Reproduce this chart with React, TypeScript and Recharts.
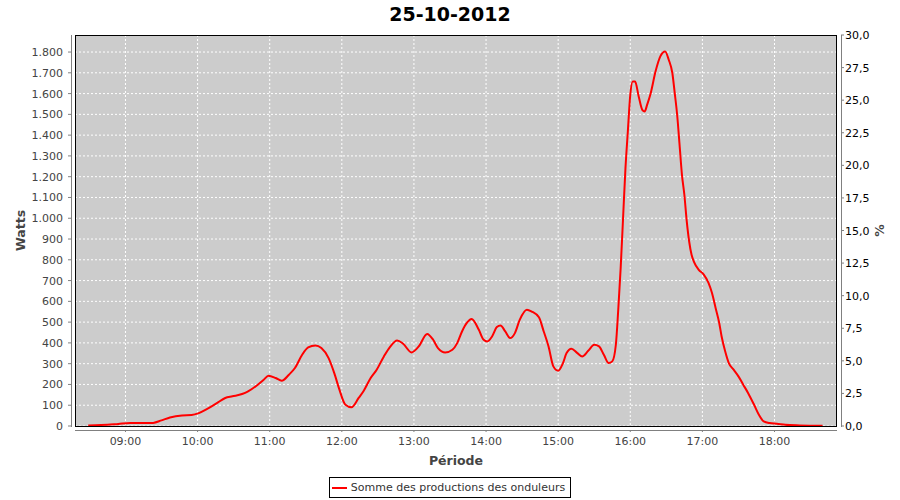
import React from 'react'
import { LineChart, Line, XAxis, YAxis, CartesianGrid, Legend } from 'recharts'

// Production du 25-10-2012
const TIMES = [
    '08:29', '08:35', '08:45', '08:54', '09:04', '09:15', '09:23', '09:30', '09:37', '09:47',
    '09:55', '10:01', '10:08', '10:16', '10:23', '10:29', '10:37', '10:42', '10:49', '10:55',
    '10:59', '11:05', '11:10', '11:16', '11:21', '11:27', '11:32', '11:38', '11:43', '11:49',
    '11:54', '11:58', '12:03', '12:08', '12:14', '12:18', '12:24', '12:29', '12:35', '12:40',
    '12:46', '12:51', '12:58', '13:04', '13:11', '13:16', '13:20', '13:26', '13:32', '13:36',
    '13:40', '13:44', '13:48', '13:54', '13:58', '14:01', '14:05', '14:09', '14:12', '14:16',
    '14:20', '14:24', '14:28', '14:34', '14:38', '14:44', '14:48', '14:52', '14:56', '15:00',
    '15:04', '15:07', '15:11', '15:16', '15:20', '15:25', '15:30', '15:34', '15:38', '15:42',
    '15:45', '15:48', '15:50', '15:52', '15:54', '15:56', '15:58', '16:00', '16:02', '16:04',
    '16:07', '16:10', '16:12', '16:14', '16:17', '16:21', '16:25', '16:29', '16:32', '16:35',
    '16:37', '16:39', '16:41', '16:43', '16:45', '16:47', '16:49', '16:51', '16:53', '16:57',
    '17:01', '17:05', '17:08', '17:11', '17:14', '17:16', '17:19', '17:22', '17:26', '17:30',
    '17:34', '17:38', '17:43', '17:47', '17:51', '17:56', '18:02', '18:09', '18:21', '18:40',
]

const WATTS = [
    2, 4, 6, 10, 14, 14, 15, 27, 41, 51,
    53, 62, 82, 110, 135, 143, 154, 167, 194, 223,
    242, 231, 218, 247, 279, 343, 378, 388, 375, 327,
    250, 175, 102, 90, 135, 167, 231, 271, 335, 380,
    412, 396, 354, 383, 443, 415, 375, 354, 367, 399,
    455, 496, 515, 463, 415, 407, 431, 476, 484, 455,
    423, 447, 511, 560, 551, 523, 455, 383, 287, 266,
    303, 351, 372, 351, 335, 362, 391, 383, 343, 303,
    311, 391, 560, 760, 1000, 1241, 1420, 1594, 1658, 1658,
    1586, 1522, 1514, 1546, 1602, 1706, 1779, 1803, 1763, 1699,
    1602, 1498, 1354, 1209, 1113, 985, 888, 824, 790, 752,
    730, 690, 640, 568, 496, 431, 359, 303, 271, 239,
    199, 159, 102, 54, 22, 14, 11, 6, 3, 1,
]

const HOUR_TICKS = ['09:00', '10:00', '11:00', '12:00', '13:00', '14:00', '15:00', '16:00', '17:00', '18:00']
const WATT_TICKS = [0, 100, 200, 300, 400, 500, 600, 700, 800, 900, 1000, 1100, 1200, 1300, 1400, 1500, 1600, 1700, 1800]
const PCT_TICKS = [0, 2.5, 5, 7.5, 10, 12.5, 15, 17.5, 20, 22.5, 25, 27.5, 30]

const SERIES_NAME = 'Somme des productions des onduleurs'
const FONT = '"DejaVu Sans", sans-serif'

const W = 900
const H = 500
// plot box (page coordinates)
const PLOT = { left: 75, top: 35, right: 837, bottom: 426 }
const AXIS_GAP = 4
const AXIS_W = 60

const toMinutes = (t: string) => {
    const [h, m] = t.split(':').map(Number)
    return h * 60 + m
}

const fmtTime = (v: number) => {
    const h = Math.floor(v / 60)
    const m = v % 60
    return `${String(h).padStart(2, '0')}:${String(m).padStart(2, '0')}`
}

const fmtWatts = (v: number) => (v >= 1000 ? `${Math.floor(v / 1000)}.${String(v % 1000).padStart(3, '0')}` : `${v}`)
const fmtPct = (v: number) => v.toFixed(1).replace('.', ',')

const data = TIMES.map((t, i) => ({ t: toMinutes(t), watts: WATTS[i] }))

const XTick = ({ x, y, payload }: any) => (
    <g>
        <line x1={x} x2={x} y1={y + AXIS_GAP} y2={y + AXIS_GAP + 2} stroke="#808080" />
        <text x={x} y={y + 19} textAnchor="middle" fill="#444" fontSize={11} fontFamily={FONT}>
            {fmtTime(payload.value)}
        </text>
    </g>
)

const LeftTick = ({ x, y, payload }: any) => (
    <g>
        <line x1={x - AXIS_GAP} x2={x - AXIS_GAP - 3} y1={y} y2={y} stroke="#808080" />
        <text x={x - 12} y={y + 4} textAnchor="end" fill="#444" fontSize={11} fontFamily={FONT}>
            {fmtWatts(payload.value)}
        </text>
    </g>
)

const RightTick = ({ x, y, payload }: any) => (
    <g>
        <line x1={x + AXIS_GAP} x2={x + AXIS_GAP + 3} y1={y} y2={y} stroke="#808080" />
        <text x={x + 8} y={y + 4} textAnchor="start" fill="#000" fontSize={11} fontFamily={FONT}>
            {fmtPct(payload.value)}
        </text>
    </g>
)

const LegendBox = () => (
    <div style={{ display: 'flex', justifyContent: 'center' }}>
        <div
            style={{
                display: 'flex',
                alignItems: 'center',
                height: 19,
                border: '1px solid #000',
                padding: '0 5px 0 2px',
                fontFamily: FONT,
                fontSize: 11,
                color: '#333',
                background: '#fff',
                whiteSpace: 'nowrap'
            }}
        >
            <span style={{ display: 'inline-block', width: 15, height: 2, background: '#FF0000', marginRight: 4 }} />
            {SERIES_NAME}
        </div>
    </div>
)

export default function App() {
    const midY = (PLOT.top + PLOT.bottom) / 2
    const midX = (PLOT.left + PLOT.right) / 2

    return (
        <div style={{ position: 'absolute', left: 0, top: 0, width: W, height: H, background: '#fff' }}>
            <LineChart
                width={W}
                height={H}
                data={data}
                margin={{ top: PLOT.top, left: PLOT.left - AXIS_W, right: W - PLOT.right - AXIS_W, bottom: 2 }}
            >
                <CartesianGrid
                    yAxisId="left"
                    fill="#CCCCCC"
                    stroke="#FFFFFF"
                    strokeDasharray="2 2"
                    horizontalValues={WATT_TICKS}
                    verticalValues={HOUR_TICKS.map(toMinutes)}
                />
                <XAxis
                    dataKey="t"
                    type="number"
                    domain={[498, 1132]}
                    ticks={HOUR_TICKS.map(toMinutes)}
                    interval={0}
                    height={51}
                    tickSize={0}
                    tickMargin={0}
                    axisLine={false}
                    tickLine={false}
                    tick={<XTick />}
                    allowDataOverflow
                />
                <YAxis
                    yAxisId="left"
                    orientation="left"
                    width={AXIS_W}
                    domain={[0, 1882]}
                    ticks={WATT_TICKS}
                    interval={0}
                    tickSize={0}
                    tickMargin={0}
                    axisLine={false}
                    tickLine={false}
                    tick={<LeftTick />}
                    allowDataOverflow
                />
                <YAxis
                    yAxisId="right"
                    orientation="right"
                    width={AXIS_W}
                    domain={[0, 30]}
                    ticks={PCT_TICKS}
                    interval={0}
                    tickSize={0}
                    tickMargin={0}
                    axisLine={false}
                    tickLine={false}
                    tick={<RightTick />}
                    allowDataOverflow
                />
                <Legend
                    verticalAlign="bottom"
                    content={<LegendBox />}
                    wrapperStyle={{ left: 0, width: W, bottom: 2 }}
                />
                <Line
                    yAxisId="left"
                    type="monotone"
                    dataKey="watts"
                    name={SERIES_NAME}
                    stroke="#FF0000"
                    strokeWidth={2}
                    dot={false}
                    activeDot={false}
                    isAnimationActive={false}
                />
            </LineChart>

            {/* frame, offset axis lines and titles */}
            <svg
                width={W}
                height={H}
                style={{ position: 'absolute', left: 0, top: 0, pointerEvents: 'none' }}
                fontFamily={FONT}
            >
                <rect
                    x={PLOT.left + 0.5}
                    y={PLOT.top + 0.5}
                    width={PLOT.right - PLOT.left - 1}
                    height={PLOT.bottom - PLOT.top}
                    fill="none"
                    stroke="#000"
                />
                <line x1={PLOT.left - AXIS_GAP + 0.5} x2={PLOT.left - AXIS_GAP + 0.5} y1={PLOT.top} y2={PLOT.bottom + 1} stroke="#808080" />
                <line x1={PLOT.right + AXIS_GAP + 0.5} x2={PLOT.right + AXIS_GAP + 0.5} y1={PLOT.top} y2={PLOT.bottom + 1} stroke="#808080" />
                <line x1={PLOT.left} x2={PLOT.right} y1={PLOT.bottom + AXIS_GAP + 0.5} y2={PLOT.bottom + AXIS_GAP + 0.5} stroke="#808080" />

                <text x={W / 2} y={21} textAnchor="middle" fontSize={19} fontWeight="bold" fill="#000">
                    25-10-2012
                </text>
                <text
                    x={25}
                    y={midY}
                    textAnchor="middle"
                    fontSize={12.5}
                    fontWeight="bold"
                    fill="#444"
                    transform={`rotate(-90 25 ${midY})`}
                >
                    Watts
                </text>
                <text
                    x={884}
                    y={midY}
                    textAnchor="middle"
                    fontSize={12.5}
                    fontWeight="bold"
                    fill="#444"
                    transform={`rotate(-90 884 ${midY})`}
                >
                    %
                </text>
                <text x={midX} y={465} textAnchor="middle" fontSize={12.5} fontWeight="bold" fill="#444">
                    Période
                </text>
            </svg>
        </div>
    )
}
